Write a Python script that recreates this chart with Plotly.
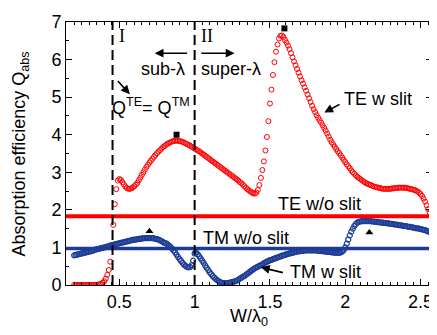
import plotly.graph_objects as go

# ---------------- data ----------------
w_over_lambda = [round(0.20 + 0.01 * i, 2) for i in range(239)]  # 0.20 ... 2.58

te_w_slit = [
    0, 0, 0, 0, 0, 0, 0, 0, 0, 0, 0, 0, 0, 0, 0, 0,
    0.01, 0.02, 0.04, 0.06, 0.1, 0.17, 0.27, 0.4, 0.62, 1.0, 1.6, 2.15, 2.55, 2.78,
    2.82, 2.8, 2.74, 2.68, 2.62, 2.58, 2.56, 2.56, 2.57, 2.6,
    2.63, 2.67, 2.72, 2.79, 2.86, 2.93, 3.0, 3.07, 3.14, 3.2,
    3.26, 3.31, 3.36, 3.41, 3.46, 3.51, 3.55, 3.59, 3.63, 3.67,
    3.7, 3.73, 3.76, 3.78, 3.8, 3.82, 3.83, 3.84, 3.84, 3.84,
    3.83, 3.82, 3.81, 3.79, 3.77, 3.75, 3.73, 3.71, 3.68, 3.66,
    3.63, 3.61, 3.58, 3.56, 3.53, 3.5, 3.47, 3.44, 3.41, 3.38,
    3.35, 3.32, 3.29, 3.26, 3.23, 3.2, 3.17, 3.14, 3.11, 3.08,
    3.05, 3.02, 2.99, 2.96, 2.93, 2.9, 2.87, 2.84, 2.81, 2.78,
    2.74, 2.71, 2.67, 2.63, 2.59, 2.55, 2.52, 2.49, 2.46, 2.44,
    2.43, 2.46, 2.53, 2.66, 2.85, 3.06, 3.29, 3.58, 3.94, 4.36,
    4.83, 5.2, 5.59, 5.93, 6.21, 6.4, 6.56, 6.63, 6.64, 6.6,
    6.52, 6.45, 6.37, 6.28, 6.17, 6.06, 5.95, 5.85, 5.75, 5.65,
    5.55, 5.45, 5.36, 5.26, 5.17, 5.07, 4.97, 4.87, 4.77, 4.68,
    4.6, 4.52, 4.45, 4.38, 4.32, 4.25, 4.18, 4.11, 4.03, 3.95,
    3.87, 3.8, 3.74, 3.68, 3.62, 3.56, 3.51, 3.45, 3.39, 3.33,
    3.27, 3.21, 3.16, 3.11, 3.05, 3.0, 2.96, 2.92, 2.88, 2.85,
    2.82, 2.79, 2.76, 2.73, 2.71, 2.69, 2.67, 2.66, 2.64, 2.62,
    2.61, 2.6, 2.59, 2.58, 2.57, 2.56, 2.56, 2.56, 2.56, 2.56,
    2.56, 2.57, 2.57, 2.58, 2.58, 2.59, 2.59, 2.59, 2.59, 2.59,
    2.59, 2.58, 2.57, 2.56, 2.55, 2.54, 2.53, 2.51, 2.49, 2.46,
    2.42, 2.37, 2.3, 2.22, 2.12, 2.02, 1.93, 1.83, 1.7,
]

tm_w_slit = [
    0.79, 0.8, 0.81, 0.82, 0.83, 0.84, 0.85, 0.86, 0.87, 0.88,
    0.89, 0.9, 0.91, 0.92, 0.94, 0.95, 0.96, 0.97, 0.98, 0.99,
    1.0, 1.01, 1.02, 1.03, 1.05, 1.06, 1.07, 1.08, 1.09, 1.1,
    1.11, 1.12, 1.13, 1.14, 1.15, 1.16, 1.17, 1.18, 1.19, 1.2,
    1.21, 1.21, 1.22, 1.23, 1.23, 1.24, 1.24, 1.25, 1.25, 1.25,
    1.25, 1.25, 1.25, 1.24, 1.23, 1.22, 1.21, 1.19, 1.17, 1.14,
    1.12, 1.11, 1.08, 1.05, 1.01, 0.97, 0.92, 0.87, 0.81, 0.75,
    0.69, 0.64, 0.59, 0.54, 0.51, 0.48, 0.47, 0.48, 0.53, 0.65,
    0.84, 0.86, 0.82, 0.77, 0.71, 0.65, 0.59, 0.52, 0.46, 0.4,
    0.34, 0.29, 0.24, 0.2, 0.16, 0.13, 0.1, 0.08, 0.06, 0.05,
    0.05, 0.05, 0.05, 0.06, 0.07, 0.08, 0.09, 0.1, 0.12, 0.14,
    0.17, 0.19, 0.22, 0.24, 0.27, 0.3, 0.33, 0.36, 0.39, 0.42,
    0.45, 0.47, 0.49, 0.51, 0.53, 0.55, 0.58, 0.6, 0.62, 0.64,
    0.66, 0.67, 0.69, 0.7, 0.72, 0.73, 0.75, 0.76, 0.78, 0.79,
    0.8, 0.82, 0.83, 0.84, 0.85, 0.86, 0.87, 0.88, 0.89, 0.9,
    0.9, 0.91, 0.91, 0.92, 0.92, 0.92, 0.92, 0.92, 0.92, 0.92,
    0.92, 0.92, 0.91, 0.91, 0.91, 0.9, 0.9, 0.89, 0.89, 0.88,
    0.88, 0.87, 0.87, 0.86, 0.86, 0.86, 0.86, 0.87, 0.89, 0.93,
    1.0, 1.1, 1.21, 1.32, 1.42, 1.5, 1.57, 1.62, 1.66, 1.68,
    1.69, 1.7, 1.7, 1.7, 1.7, 1.7, 1.7, 1.7, 1.69, 1.69,
    1.68, 1.68, 1.67, 1.67, 1.66, 1.66, 1.65, 1.65, 1.64, 1.64,
    1.63, 1.63, 1.62, 1.61, 1.61, 1.6, 1.59, 1.59, 1.58, 1.57,
    1.57, 1.56, 1.55, 1.55, 1.54, 1.53, 1.52, 1.51, 1.51, 1.5,
    1.49, 1.48, 1.47, 1.46, 1.44, 1.43, 1.41, 1.4, 1.38,
]

te_without_slit = 1.83
tm_without_slit = 0.97

regime_boundaries = [0.455, 1.0]          # dashed vertical lines (I, II)
te_peak_x = [0.88, 1.596]                 # black squares
te_peak_y = [4.0, 6.83]
tm_peak_x = [0.70, 2.16]                  # black triangles
tm_peak_y = [1.43, 1.40]

x_ticks = [0.5, 1, 1.5, 2, 2.5]
x_tick_labels = ["0.5", "1", "1.5", "2", "2.5"]
y_ticks = [0, 1, 2, 3, 4, 5, 6, 7]

assert len(te_w_slit) == len(w_over_lambda) == len(tm_w_slit)

# ---------------- figure ----------------
RED = "#ff0000"
BLUE = "#1c3c96"
SANS = "Liberation Sans, Arial, sans-serif"
SERIF = "Liberation Serif, Times New Roman, serif"

fig = go.Figure()

fig.add_trace(go.Scatter(
    x=w_over_lambda, y=te_w_slit, mode="markers",
    marker=dict(symbol="circle-open", size=5, color=RED, line=dict(width=1, color=RED)),
    name="TE w slit", showlegend=False,
))
fig.add_trace(go.Scatter(
    x=w_over_lambda, y=tm_w_slit, mode="markers",
    marker=dict(symbol="circle-open", size=5, color=BLUE, line=dict(width=1.2, color=BLUE)),
    name="TM w slit", showlegend=False,
))
fig.add_trace(go.Scatter(
    x=te_peak_x, y=te_peak_y, mode="markers",
    marker=dict(symbol="square", size=6, color="black"), showlegend=False,
))
fig.add_trace(go.Scatter(
    x=tm_peak_x, y=tm_peak_y, mode="markers",
    marker=dict(symbol="triangle-up", size=7, color="black"), showlegend=False,
))

shapes = []
for yv, col, w in [(te_without_slit, RED, 4), (tm_without_slit, BLUE, 3.5)]:
    shapes.append(dict(type="line", xref="paper", yref="y", x0=0, x1=1, y0=yv, y1=yv,
                       line=dict(color=col, width=w), layer="above"))
for xv in regime_boundaries:
    shapes.append(dict(type="line", xref="x", yref="paper", x0=xv, x1=xv, y0=0, y1=1,
                       line=dict(color="black", width=2, dash="10px,5px"), layer="above"))

ann = []
def text(x, y, s, font=SANS, size=18):
    ann.append(dict(x=x, y=y, xref="x", yref="y", text=s, showarrow=False,
                    font=dict(family=font, size=size, color="black"),
                    xanchor="center", yanchor="middle"))

def arrow(x_head, y_head, x_tail, y_tail):
    ann.append(dict(x=x_head, y=y_head, ax=x_tail, ay=y_tail, xref="x", yref="y",
                    axref="x", ayref="y", text="", showarrow=True, arrowhead=2,
                    arrowsize=1.1, arrowwidth=1.6, arrowcolor="black"))

text(0.519, 6.62, "I", font=SERIF)
text(1.08, 6.62, "II", font=SERIF)
text(0.788, 5.75, "sub-λ")
text(1.242, 5.75, "super-λ")
text(0.713, 4.75, "Q<sup>TE</sup>= Q<sup>TM</sup>")
text(2.219, 4.96, "TE w slit")
text(1.828, 2.15, "TE w/o slit")
text(1.338, 1.24, "TM w/o slit")
text(1.872, 0.335, "TM w slit")

arrow(0.735, 6.17, 0.96, 6.17)
arrow(1.265, 6.17, 1.035, 6.17)
arrow(0.57, 5.08, 0.481, 5.47)
arrow(1.861, 4.59, 1.972, 4.83)
arrow(1.44, 0.47, 1.596, 0.32)

# axis titles
ann.append(dict(x=-0.123, y=0.5, xref="paper", yref="paper", textangle=-90,
                text="Absorption efficiency Q<sub>abs</sub>", showarrow=False,
                font=dict(family=SANS, size=18, color="black"),
                xanchor="center", yanchor="middle"))
ann.append(dict(x=0.5, y=-0.125, xref="paper", yref="paper",
                text="W/λ<sub>0</sub>", showarrow=False,
                font=dict(family=SANS, size=18, color="black"),
                xanchor="center", yanchor="middle"))

axis_common = dict(
    showline=True, linecolor="black", linewidth=1, mirror="ticks",
    ticks="inside", ticklen=6, tickwidth=1, tickcolor="black",
    showgrid=False, zeroline=False, ticklabeloverflow="allow",
    tickfont=dict(family=SANS, size=18, color="black"),
)

# the page body adds an 8px offset; the plot area is placed so that it spans
# x 66..433 and y 17..285 in the 437x335 window
fig.update_layout(
    width=429, height=327,
    margin=dict(l=58, r=4, t=9, b=50),
    paper_bgcolor="white", plot_bgcolor="white",
    shapes=shapes, annotations=ann,
    xaxis=dict(range=[0.146, 2.576], tickvals=x_ticks, ticktext=x_tick_labels,
               minor=dict(dtick=0.05, tick0=0, ticks="inside", ticklen=3, tickcolor="black"),
               **axis_common),
    yaxis=dict(range=[0, 7], tickvals=y_ticks,
               minor=dict(dtick=0.5, tick0=0, ticks="inside", ticklen=3, tickcolor="black"),
               **axis_common),
)

fig.write_html("out.html")
